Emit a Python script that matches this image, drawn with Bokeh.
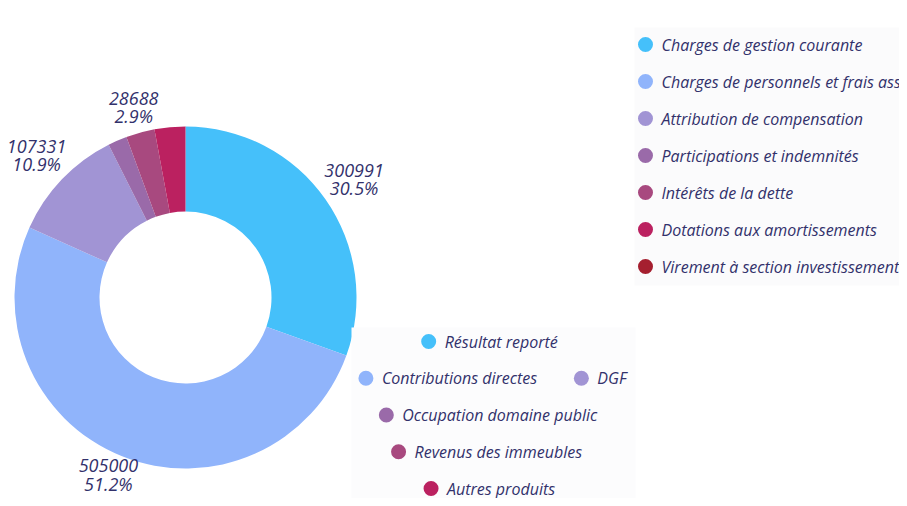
import math
from bokeh.plotting import figure
from bokeh.models import Range1d, ColumnDataSource
from bokeh.core.properties import value
from bokeh.embed import file_html
from bokeh.resources import INLINE

# ---------------- data ----------------
income_labels = ["Résultat reporté", "Contributions directes", "DGF",
                 "Occupation domaine public", "Revenus des immeubles", "Autres produits"]
income_values = [300991, 505000, 107331, 17800, 26700, 28688]
income_colors = ["#45c0fa", "#90b4fb", "#a194d4", "#9a6aa9", "#a8497f", "#bb2160"]
income_show_label = [True, True, True, False, False, True]

expense_labels = ["Charges de gestion courante",
                  "Charges de personnels et frais assimilés",
                  "Attribution de compensation",
                  "Participations et indemnités",
                  "Intérêts de la dette",
                  "Dotations aux amortissements",
                  "Virement à section investissement"]
expense_colors = ["#45c0fa", "#90b4fb", "#a194d4", "#9a6aa9", "#a8497f", "#bb2160", "#a51f2f"]

bottom_legend_rows = [["Résultat reporté"],
                      ["Contributions directes", "DGF"],
                      ["Occupation domaine public"],
                      ["Revenus des immeubles"],
                      ["Autres produits"]]

# ---------------- style ----------------
W, H = 899, 498
TEXT_COLOR = "#32316b"
FONT = "Open Sans"
LEG_SIZE = 16
LAB_SIZE = 18

p = figure(width=W, height=H, x_range=Range1d(0, W), y_range=Range1d(0, H),
           output_backend="svg", toolbar_location=None, min_border=0)
p.axis.visible = False
p.grid.visible = False
p.outline_line_color = None
p.background_fill_color = "white"
p.border_fill_color = "white"

# ---------------- donut ----------------
cx, cy, R_out, R_in, R_lab = 185, 201, 171, 86, 206
total = sum(income_values)
starts, ends, mids = [], [], []
c = 0.0
for v in income_values:
    c0 = c
    c += v / total
    starts.append(math.pi / 2 - 2 * math.pi * c0)
    ends.append(math.pi / 2 - 2 * math.pi * c)
    mids.append(math.pi / 2 - 2 * math.pi * (c0 + c) / 2)

src = ColumnDataSource(dict(start=starts, end=ends, color=income_colors,
                            x=[cx] * len(income_values), y=[cy] * len(income_values)))
p.annular_wedge(x="x", y="y", inner_radius=R_in, outer_radius=R_out,
                start_angle="start", end_angle="end", direction="clock",
                fill_color="color", line_color=None, source=src)

# slice labels (two lines each)
label_nudge = {"Autres produits": (-33, -15), "Contributions directes": (0, 14)}
half_gap = 9
vx, vy, vt, px_, py_, pt = [], [], [], [], [], []
for lab, v, m, show in zip(income_labels, income_values, mids, income_show_label):
    if not show:
        continue
    dx, dy = label_nudge.get(lab, (0, 0))
    x = cx + R_lab * math.cos(m) + dx
    y = cy + R_lab * math.sin(m) + dy
    vx.append(x); vy.append(y + half_gap); vt.append(f"{v}")
    px_.append(x); py_.append(y - half_gap); pt.append(f"{100 * v / total:.1f}%")
for xs, ys, ts in ((vx, vy, vt), (px_, py_, pt)):
    p.text(x=xs, y=ys, text=ts, text_align="center", text_baseline="middle",
           text_font=value(FONT), text_font_style="italic", text_font_size=f"{LAB_SIZE}px",
           text_color=TEXT_COLOR)

# ---------------- text width estimate ----------------
EM = {"a": .556, "b": .613, "c": .48, "d": .613, "e": .561, "f": .336, "g": .546,
      "h": .614, "i": .258, "j": .258, "k": .52, "l": .258, "m": .932, "n": .614,
      "o": .603, "p": .613, "q": .613, "r": .409, "s": .477, "t": .353, "u": .614,
      "v": .5, "w": .77, "x": .5, "y": .5, "z": .47, " ": .26, "é": .561,
      "C": .6, "D": .7, "G": .7, "F": .52, "R": .6, "O": .77, "A": .63}


def est_width(s, size):
    return sum(EM.get(ch, .62) for ch in s) * size


# ---------------- right legend ----------------
p.quad(left=[634], right=[W], top=[471], bottom=[213], fill_color="#fbfbfc", line_color=None)
rl_x, rl_y0, rl_step = 645, 454, 37
ry = [rl_y0 - i * rl_step for i in range(len(expense_labels))]
p.scatter(x=[rl_x] * len(ry), y=ry, size=15, marker="circle",
          fill_color=expense_colors, line_color=None)
p.text(x=[rl_x + 16] * len(ry), y=ry, text=expense_labels, text_align="left",
       text_baseline="middle", text_font=value(FONT), text_font_style="italic",
       text_font_size=f"{LEG_SIZE}px", text_color=TEXT_COLOR)

# ---------------- bottom legend ----------------
box_l, box_r, box_t = 351, 635, 171
p.quad(left=[box_l], right=[box_r], top=[box_t], bottom=[0], fill_color="#fcfcfd", line_color=None)
bl_cx = (box_l + box_r) / 2
bl_y0, bl_step = 157, 36.75
color_of = dict(zip(income_labels, income_colors))
dot_to_text, item_gap = 16, 34
bx, by, bc, tx, ty, tt = [], [], [], [], [], []
for i, row in enumerate(bottom_legend_rows):
    widths = [dot_to_text + est_width(s, LEG_SIZE) for s in row]
    row_w = sum(widths) + item_gap * (len(row) - 1) + 7
    x = bl_cx - row_w / 2 + 7
    y = bl_y0 - i * bl_step
    for s, w in zip(row, widths):
        bx.append(x); by.append(y); bc.append(color_of[s])
        tx.append(x + dot_to_text); ty.append(y); tt.append(s)
        x += w + item_gap
p.scatter(x=bx, y=by, size=15, marker="circle", fill_color=bc, line_color=None)
p.text(x=tx, y=ty, text=tt, text_align="left", text_baseline="middle",
       text_font=value(FONT), text_font_style="italic",
       text_font_size=f"{LEG_SIZE}px", text_color=TEXT_COLOR)

open("out.html", "w").write(file_html(p, INLINE))
